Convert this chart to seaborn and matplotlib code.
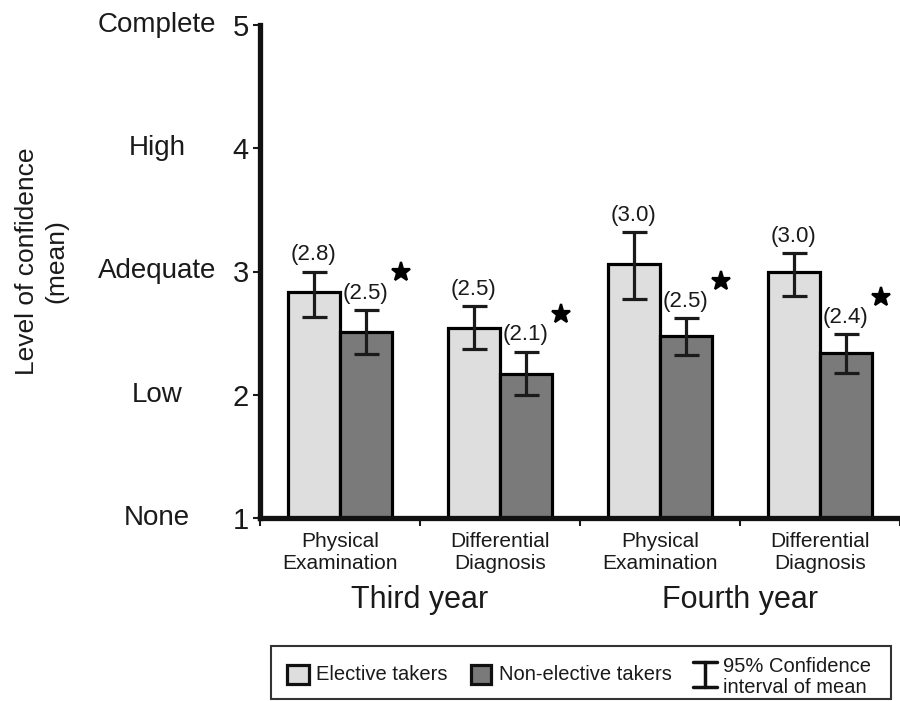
import numpy as np
import pandas as pd
import matplotlib
matplotlib.use("Agg")
import matplotlib.pyplot as plt
import seaborn as sns
from matplotlib.transforms import blended_transform_factory, ScaledTranslation
from matplotlib.patches import Rectangle
from matplotlib.lines import Line2D

# ---------------- data ----------------
cat_ids = ["Y3 PE", "Y3 DD", "Y4 PE", "Y4 DD"]
tick_labels = ["Physical\nExamination", "Differential\nDiagnosis",
               "Physical\nExamination", "Differential\nDiagnosis"]
year_labels = ["Third year", "Fourth year"]
groups = ["Elective takers", "Non-elective takers"]

elective_mean = [2.83, 2.54, 3.06, 3.00]
elective_lo = [2.63, 2.37, 2.78, 2.80]
elective_hi = [3.00, 2.72, 3.32, 3.15]
elective_text = ["(2.8)", "(2.5)", "(3.0)", "(3.0)"]

nonelective_mean = [2.51, 2.17, 2.48, 2.34]
nonelective_lo = [2.33, 2.00, 2.32, 2.18]
nonelective_hi = [2.69, 2.35, 2.62, 2.49]
nonelective_text = ["(2.5)", "(2.1)", "(2.5)", "(2.4)"]
significant = [True, True, True, True]

y_ticks = [1, 2, 3, 4, 5]
y_words = ["None", "Low", "Adequate", "High", "Complete"]
legend_ci_text = "95% Confidence\ninterval of mean"

light = "#dedede"
dark = "#7a7a7a"

# ---------------- figure ----------------
sns.set_theme(style="white")
plt.rcParams["font.family"] = ["Liberation Sans", "DejaVu Sans"]

W, H = 900, 701
fig = plt.figure(figsize=(W / 100, H / 100), dpi=100)
ax_left, ax_right, ax_top, ax_bot = 260, 900, 25, 518
ax = fig.add_axes([ax_left / W, 1 - ax_bot / H, (ax_right - ax_left) / W, (ax_bot - ax_top) / H])

df = pd.DataFrame({
    "cat": cat_ids * 2,
    "group": [groups[0]] * 4 + [groups[1]] * 4,
    "mean": elective_mean + nonelective_mean,
})

sns.barplot(data=df, x="cat", y="mean", hue="group", order=cat_ids, hue_order=groups,
            palette=[light, dark], width=0.65, edgecolor="black", linewidth=2.3,
            errorbar=None, legend=False, saturation=1, ax=ax)

ax.set_xlim(-0.5, 3.46)
ax.set_ylim(1, 5)

lo_sets = [elective_lo, nonelective_lo]
hi_sets = [elective_hi, nonelective_hi]
txt_sets = [elective_text, nonelective_text]
star_shift = ScaledTranslation(25 / 72, 27 / 72, fig.dpi_scale_trans)
for gi, cont in enumerate(ax.containers[:2]):
    for bi, bar in enumerate(cont):
        xc = bar.get_x() + bar.get_width() / 2
        m = bar.get_height()
        lo, hi = lo_sets[gi][bi], hi_sets[gi][bi]
        ax.errorbar([xc], [m], yerr=[[m - lo], [hi - m]], fmt="none", ecolor="#1a1a1a",
                    elinewidth=2.3, capsize=9, capthick=2.3, zorder=5)
        ax.annotate(txt_sets[gi][bi], (xc, hi), xytext=(0, 12), textcoords="offset points",
                    ha="center", va="center", fontsize=16, color="#1a1a1a", zorder=6)
        if gi == 1 and significant[bi]:
            ax.plot([xc], [hi], linestyle="none", marker="*", markersize=14,
                    color="black", markeredgewidth=1.6, markeredgecolor="black",
                    transform=ax.transData + star_shift, clip_on=False, zorder=6)

# spines
sns.despine(ax=ax, top=True, right=True)
for s in ["left", "bottom"]:
    ax.spines[s].set_linewidth(3.8)
    ax.spines[s].set_color("#111111")
    ax.spines[s].set_capstyle("projecting")

# y ticks
ax.set_yticks(y_ticks)
ax.set_yticklabels([str(v) for v in y_ticks], fontsize=21, color="#1a1a1a")
ax.tick_params(axis="y", which="major", direction="out", length=5, width=1.5, pad=3,
               left=True, colors="#1a1a1a")
tr_words = blended_transform_factory(ax.transAxes, ax.transData)
for v, w in zip(y_ticks, y_words):
    ax.text((157 - ax_left) / (ax_right - ax_left), v, w, transform=tr_words, ha="center",
            va="center", fontsize=20, color="#1a1a1a", clip_on=False)

# x ticks
ax.set_xticks(range(len(cat_ids)))
ax.set_xticklabels(tick_labels, fontsize=15, color="#1a1a1a", linespacing=1.22)
ax.tick_params(axis="x", which="major", length=0, pad=10, bottom=True)
ax.set_xticks([-0.5, 0.5, 1.5, 2.5, 3.5], minor=True)
ax.tick_params(axis="x", which="minor", direction="out", length=6, width=1.5, bottom=True,
               colors="#1a1a1a")
ax.set_xlabel("")
ax.set_ylabel("")

# year labels
tr_year = blended_transform_factory(ax.transData, fig.transFigure)
for i, lab in enumerate(year_labels):
    ax.text(2 * i + 0.5, 1 - 600 / H, lab, transform=tr_year, ha="center", va="center",
            fontsize=22, color="#1a1a1a", clip_on=False)

# y label
fig.text(42 / W, 1 - 261 / H, "Level of confidence\n(mean)", rotation=90, ha="center",
         va="center", fontsize=19, color="#1a1a1a", multialignment="center", linespacing=1.3)

# ---------------- legend (drawn in figure pixel positions) ----------------
def fx(x):
    return x / W

def fy(y):
    return 1 - y / H

fig.add_artist(Rectangle((fx(271), fy(699)), fx(891) - fx(271), fy(646) - fy(699),
                         transform=fig.transFigure, fill=False, edgecolor="#333333", lw=1.5))
for (x0, x1), col, lab, tx in [((287, 309), light, groups[0], 316), ((471, 491), dark, groups[1], 499)]:
    fig.add_artist(Rectangle((fx(x0), fy(684)), fx(x1) - fx(x0), fy(665) - fy(684),
                             transform=fig.transFigure, facecolor=col, edgecolor="#111111", lw=2.3))
    fig.text(fx(tx), fy(675), lab, ha="left", va="center", fontsize=14.5, color="#1a1a1a")
lw_i = 2.5
fig.add_artist(Line2D([fx(705), fx(705)], [fy(662), fy(687)], transform=fig.transFigure, color="#111111", lw=lw_i))
fig.add_artist(Line2D([fx(693), fx(717)], [fy(662), fy(662)], transform=fig.transFigure, color="#111111", lw=lw_i))
fig.add_artist(Line2D([fx(693), fx(717)], [fy(687), fy(687)], transform=fig.transFigure, color="#111111", lw=lw_i))
fig.text(fx(723), fy(677), legend_ci_text, ha="left", va="center", fontsize=14.5,
         color="#1a1a1a", linespacing=1.15)

fig.savefig("out.png", dpi=100, facecolor="white")
